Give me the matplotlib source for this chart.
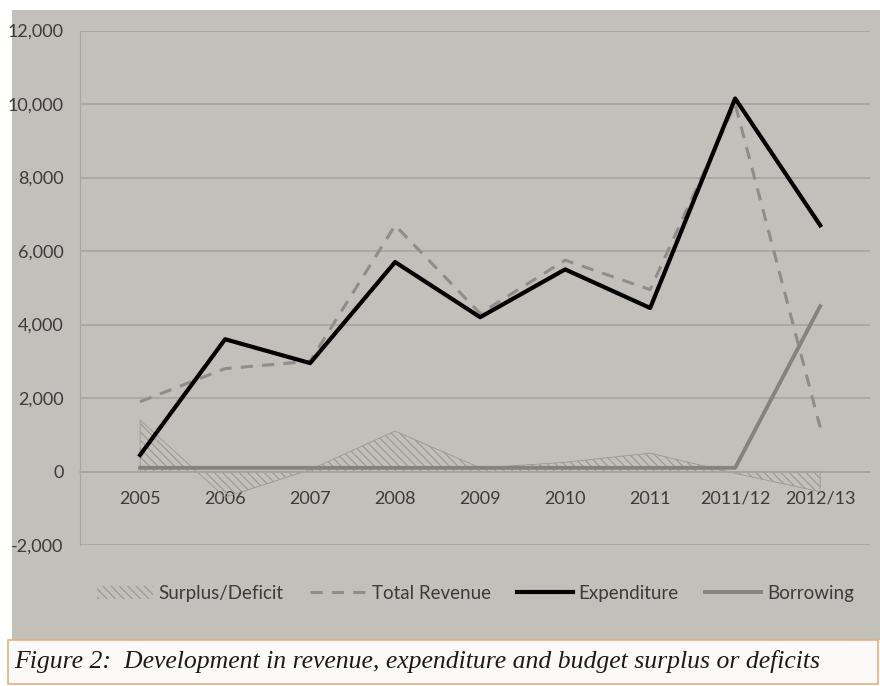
import matplotlib.pyplot as plt
import matplotlib.patches as mpatches
from matplotlib.lines import Line2D
from matplotlib.ticker import FuncFormatter
import numpy as np

years = ["2005", "2006", "2007", "2008", "2009", "2010", "2011", "2011/12", "2012/13"]
revenue = [1900, 2800, 3000, 6700, 4300, 5750, 4950, 10000, 1200]
expenditure = [450, 3600, 2950, 5700, 4200, 5500, 4450, 10150, 6700]
borrowing = [100, 100, 100, 100, 100, 100, 100, 100, 4500]
surplus = [1400, -700, 50, 1100, 100, 250, 500, -50, -550]
y_ticks = [-2000, 0, 2000, 4000, 6000, 8000, 10000, 12000]

PAPER = "#c3c0bc"
GRID = "#a8a5a1"
TEXT = "#3b3b3b"

plt.rcParams["font.family"] = ["Lato", "DejaVu Sans"]
plt.rcParams["hatch.color"] = "#8e8b88"
plt.rcParams["hatch.linewidth"] = 0.8

fig = plt.figure(figsize=(8.8, 6.86), dpi=100, facecolor="white")

# photo background + caption box
fig.patches.append(mpatches.Rectangle((12 / 880, 46 / 686), 1 - 12 / 880, 1 - 56 / 686,
                                      transform=fig.transFigure, facecolor=PAPER,
                                      edgecolor="none", zorder=-10))
fig.patches.append(mpatches.Rectangle((8 / 880, 2 / 686), 1 - 10 / 880, 44 / 686,
                                      transform=fig.transFigure, facecolor="#fbfaf8",
                                      edgecolor="#e6b07a", linewidth=1.2, zorder=-9))

ax = fig.add_axes([0.091, 0.2055, 0.898, 0.75])
ax.set_facecolor(PAPER)
x = np.arange(len(years))

ax.fill_between(x, 0, surplus, facecolor="none", edgecolor="#9a9794",
                hatch="\\\\\\\\", linewidth=0.6, zorder=2)
ax.plot(x, borrowing, color="#858280", lw=2.8, zorder=3)
ax.plot(x, revenue, color="#8f8c89", lw=2.2, ls=(0, (4, 3)), zorder=4)
ax.plot(x, expenditure, color="black", lw=3, zorder=5)

ax.set_ylim(-2000, 12000)
ax.set_yticks(y_ticks)
ax.yaxis.set_major_formatter(FuncFormatter(lambda v, p: f"{int(v):,}"))
ax.set_xlim(-0.706, 8.59)
ax.set_xticks(x)
ax.set_xticklabels(years)
ax.grid(axis="y", color=GRID, lw=1.2)
ax.set_axisbelow(True)

for s in ["top", "right"]:
    ax.spines[s].set_visible(False)
ax.spines["left"].set_color(GRID)
ax.spines["bottom"].set_position(("data", 0))
ax.spines["bottom"].set_color(GRID)
ax.spines["bottom"].set_linewidth(1.2)
ax.tick_params(axis="both", length=0, colors=TEXT, labelsize=13)
ax.tick_params(axis="x", pad=14)
ax.tick_params(axis="y", pad=12)

handles = [
    mpatches.Patch(facecolor="none", edgecolor="#9a9794", hatch="\\\\\\\\", linewidth=0),
    Line2D([], [], color="#8f8c89", lw=2.2, ls=(0, (4, 3))),
    Line2D([], [], color="black", lw=3),
    Line2D([], [], color="#858280", lw=2.8),
]
fig.legend(handles, ["Surplus/Deficit", "Total Revenue", "Expenditure", "Borrowing"],
           loc="center", bbox_to_anchor=(0.54, 0.135), ncol=4, frameon=False,
           fontsize=13.5, labelcolor=TEXT, handlelength=3, columnspacing=1.4,
           handletextpad=0.3)

fig.text(0.016, 0.035, "Figure 2:  Development in revenue, expenditure and budget surplus or deficits",
         family=["Liberation Serif", "DejaVu Serif"], style="italic", fontsize=18.5,
         color="#1a1a1a", ha="left", va="center")

fig.savefig("out.png", dpi=100, facecolor=fig.get_facecolor())
